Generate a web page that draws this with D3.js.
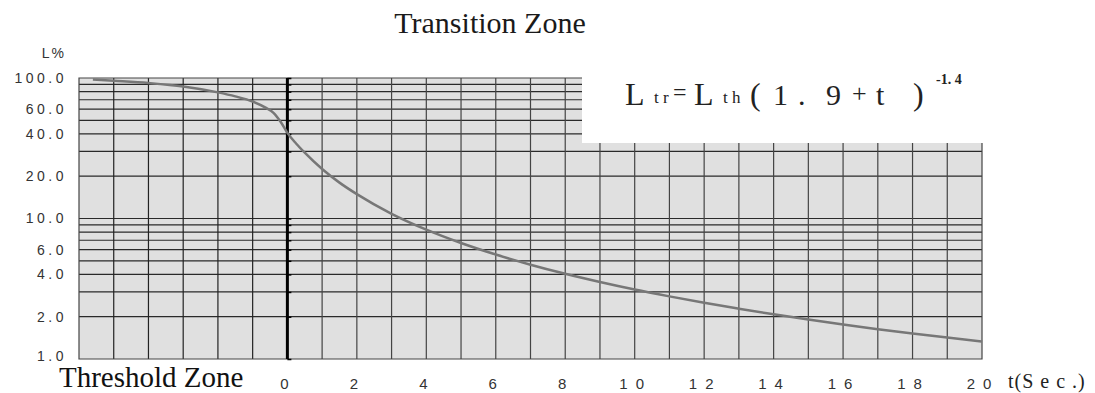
<!DOCTYPE html>
<html lang="en">
<head>
    <meta charset="UTF-8">
    <title>Transition Zone</title>
    <script src="https://d3js.org/d3.v7.min.js"></script>
    <style>
        body { margin: 0; background: #fff; }
        svg { display: block; }
    </style>
</head>
<body>
    <div id="chart"></div>
    <script>
        // curve values (t in seconds, L in %)
        const tValues = [-5.6, -5, -4, -3, -2, -1.5, -1, -0.6, -0.4, -0.2, 0, 0.25, 0.5, 1, 1.5, 2, 3, 4, 5, 6, 7, 8, 9, 10, 11, 12, 13, 14, 15, 16, 17, 18, 19, 20];
        const lValues = [97.5, 95.5, 92, 87, 79, 74, 68, 61, 56.5, 49, 40.7, 34.2, 29.4, 22.5, 18.0, 14.9, 10.8, 8.33, 6.69, 5.54, 4.69, 4.04, 3.53, 3.12, 2.79, 2.51, 2.28, 2.08, 1.91, 1.76, 1.63, 1.52, 1.42, 1.33];

        const yTicks = [1, 2, 4, 6, 10, 20, 40, 60, 100];
        const yTickLabels = ["1.0", "2.0", "4.0", "6.0", "10.0", "20.0", "40.0", "60.0", "100.0"];
        const yGrid = [2, 3, 4, 5, 6, 7, 8, 9, 10, 20, 30, 40, 50, 60, 70, 80, 90];
        const xTicks = [0, 2, 4, 6, 8, 10, 12, 14, 16, 18, 20];
        const xGrid = d3.range(-5, 20);

        const W = 1095, H = 393;
        const svg = d3.select("#chart").append("svg")
            .attr("width", W).attr("height", H);

        const x = d3.scaleLinear().domain([-6, 20]).range([79, 982]);
        const y = d3.scaleLog().domain([1, 100]).range([359, 78]);

        // cut-out for the formula box
        const boxX = 582, boxBottom = 143;

        // background
        svg.append("rect")
            .attr("x", x(-6)).attr("y", y(100))
            .attr("width", x(20) - x(-6)).attr("height", y(1) - y(100))
            .attr("fill", "#e0e0e0");

        // horizontal grid
        svg.append("g").selectAll("line")
            .data(yGrid).enter().append("line")
            .attr("x1", x(-6))
            .attr("x2", d => y(d) < boxBottom ? boxX : x(20))
            .attr("y1", d => y(d)).attr("y2", d => y(d))
            .attr("stroke", "#2a2a2a").attr("stroke-width", 1.2);

        // vertical grid
        svg.append("g").selectAll("line")
            .data(xGrid).enter().append("line")
            .attr("x1", d => x(d)).attr("x2", d => x(d))
            .attr("y1", d => x(d) > boxX ? boxBottom : y(100))
            .attr("y2", y(1))
            .attr("stroke", d => d < 0 ? "#222" : "#444").attr("stroke-width", 1.2);

        // white box behind formula
        svg.append("rect")
            .attr("x", boxX).attr("y", y(100) - 4)
            .attr("width", W - boxX).attr("height", boxBottom - y(100) + 4)
            .attr("fill", "#fff");

        // frame
        svg.append("path")
            .attr("d", `M${boxX},${y(100)}H${x(-6)}V${y(1)}H${x(20)}V${boxBottom}`)
            .attr("fill", "none").attr("stroke", "#444").attr("stroke-width", 1.2);

        // thick axis at t = 0
        const zeroAxis = svg.append("g")
            .attr("transform", `translate(${x(0)},0)`)
            .call(d3.axisRight(y).tickValues(yGrid.concat([1, 100])).tickSize(4).tickFormat(""));
        zeroAxis.select(".domain").attr("stroke", "#000").attr("stroke-width", 3)
            .attr("d", `M0,${y(100)}V${y(1)}`);
        zeroAxis.selectAll(".tick line").attr("stroke", "#000").attr("stroke-width", 1.5);

        // curve
        const pts = tValues.map((t, i) => [t, lValues[i]]);
        svg.append("path")
            .datum(pts)
            .attr("fill", "none")
            .attr("stroke", "#777")
            .attr("stroke-width", 2.5)
            .attr("d", d3.line().x(d => x(d[0])).y(d => y(d[1])).curve(d3.curveMonotoneX));

        // y labels
        svg.append("g").selectAll("text")
            .data(yTicks).enter().append("text")
            .attr("x", 67).attr("y", d => y(d) - (d === 1 ? 3 : 0))
            .attr("dy", "0.35em")
            .attr("text-anchor", "end")
            .style("font-family", "Liberation Sans, Arial, sans-serif")
            .style("font-size", "14px")
            .style("letter-spacing", "3.5px")
            .attr("fill", "#333")
            .text((d, i) => yTickLabels[i]);

        svg.append("text")
            .attr("x", 66).attr("y", 58)
            .attr("text-anchor", "end")
            .style("font-family", "Liberation Sans, Arial, sans-serif")
            .style("font-size", "14px")
            .style("letter-spacing", "2px")
            .attr("fill", "#333")
            .text("L%");

        // x labels
        svg.append("g").selectAll("text")
            .data(xTicks).enter().append("text")
            .attr("x", d => x(d) + 1).attr("y", 389)
            .attr("text-anchor", "middle")
            .style("font-family", "Liberation Sans, Arial, sans-serif")
            .style("font-size", "15px")
            .style("letter-spacing", "8px")
            .attr("fill", "#333")
            .text(d => d);

        svg.append("text")
            .attr("x", 1008).attr("y", 388)
            .style("font-family", "Liberation Serif, Times New Roman, serif")
            .style("font-size", "20px")
            .style("letter-spacing", "1px")
            .attr("fill", "#222")
            .text("t(S e c .)");

        // titles
        svg.append("text")
            .attr("x", 490).attr("y", 33)
            .attr("text-anchor", "middle")
            .style("font-family", "Liberation Serif, Times New Roman, serif")
            .style("font-size", "30px")
            .attr("fill", "#1a1a1a")
            .text("Transition Zone");

        svg.append("text")
            .attr("x", 59).attr("y", 387)
            .style("font-family", "Liberation Serif, Times New Roman, serif")
            .style("font-size", "29px")
            .attr("fill", "#111")
            .text("Threshold Zone");

        // formula
        const f = svg.append("text")
            .attr("y", 105)
            .style("font-family", "Liberation Serif, Times New Roman, serif")
            .attr("fill", "#222");
        const parts = [
            { s: "L", x: 625, size: 32 },
            { s: "t r", x: 654, size: 17, dy: -2 },
            { s: "=", x: 673, size: 24, dy: -5 },
            { s: "L", x: 694, size: 32 },
            { s: "t h", x: 723, size: 17, dy: -2 },
            { s: "(", x: 750, size: 32 },
            { s: "1", x: 773, size: 30 },
            { s: ".", x: 798, size: 30 },
            { s: "9", x: 826, size: 30 },
            { s: "+", x: 852, size: 26, dy: -3 },
            { s: "t", x: 876, size: 30 },
            { s: ")", x: 913, size: 32 },
            { s: "-1. 4", x: 936, size: 14, dy: -21, bold: true }
        ];
        parts.forEach(p => {
            f.append("tspan")
                .attr("x", p.x)
                .attr("y", 105 + (p.dy || 0))
                .style("font-size", p.size + "px")
                .style("font-weight", p.bold ? "bold" : "normal")
                .text(p.s);
        });
    </script>
</body>
</html>
